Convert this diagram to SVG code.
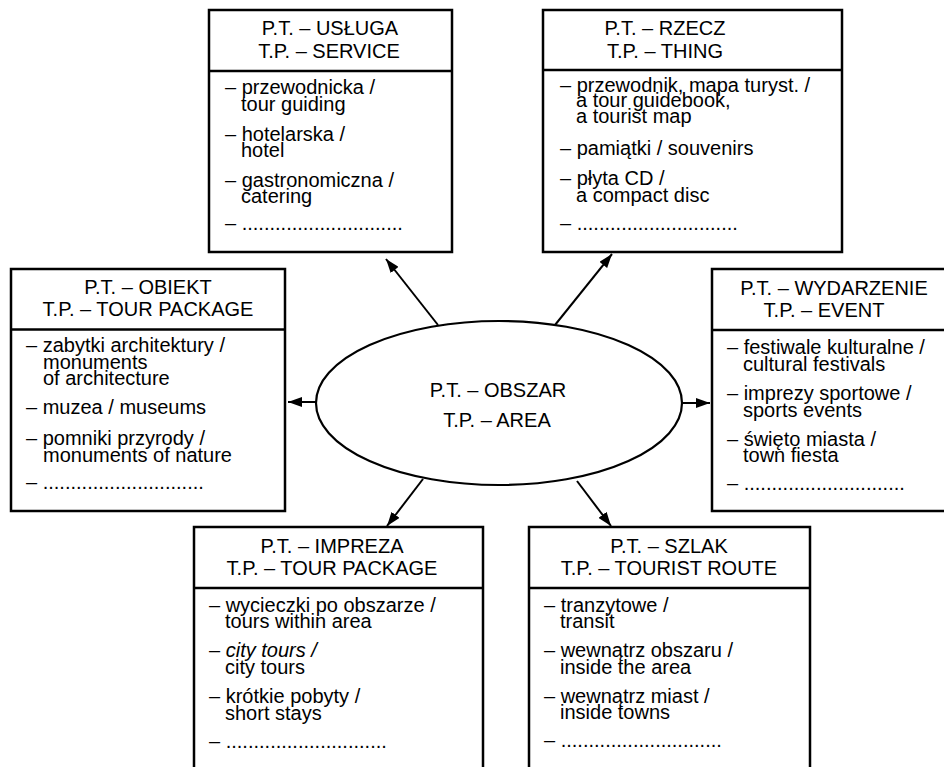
<svg xmlns="http://www.w3.org/2000/svg" width="944" height="767" viewBox="0 0 944 767">
  <defs>
    <marker id="arrow" markerUnits="userSpaceOnUse" markerWidth="14" markerHeight="10" refX="14" refY="5" orient="auto">
      <path d="M0,0 L14,5 L0,10 Z" fill="#000"/>
    </marker>
    <style>
      .box { fill: #fff; stroke: #000; stroke-width: 2.5; }
      .div { stroke: #000; stroke-width: 2.5; }
      .hd { font-family: "Liberation Sans", Arial, sans-serif; font-size: 20px; text-anchor: middle; fill: #000; }
      .bd { font-family: "Liberation Sans", Arial, sans-serif; font-size: 20px; fill: #000; }
      .conn line { stroke: #000; stroke-width: 2; marker-end: url(#arrow); }
      .ell { fill: #fff; stroke: #000; stroke-width: 2.2; }
    </style>
  </defs>
  <rect width="944" height="767" fill="#fff"/>

  <!-- connectors from the central area to each product type -->
  <g id="connectors" class="conn">
    <line x1="438" y1="325" x2="386" y2="259"/>
    <line x1="555" y1="325" x2="612" y2="254"/>
    <line x1="316" y1="402" x2="288" y2="402"/>
    <line x1="682" y1="403" x2="710" y2="403"/>
    <line x1="423" y1="479" x2="387" y2="526"/>
    <line x1="577" y1="481" x2="611" y2="526"/>
  </g>

  <!-- central node -->
  <g id="obszar">
    <ellipse class="ell" cx="499" cy="403" rx="183" ry="82"/>
    <text class="hd" x="498" y="397">P.T. – OBSZAR</text>
    <text class="hd" x="497" y="427">T.P. – AREA</text>
  </g>

  <!-- service -->
  <g id="usluga">
    <rect class="box" x="209" y="10" width="243" height="242"/>
    <line class="div" x1="209" y1="71" x2="452" y2="71"/>
    <text class="hd" x="330" y="35">P.T. – USŁUGA</text>
    <text class="hd" x="329" y="58">T.P. – SERVICE</text>
    <text class="bd" x="225" y="94">– przewodnicka /</text>
    <text class="bd" x="241" y="111">tour guiding</text>
    <text class="bd" x="225" y="141">– hotelarska /</text>
    <text class="bd" x="241" y="157">hotel</text>
    <text class="bd" x="225" y="187">– gastronomiczna /</text>
    <text class="bd" x="241" y="203">catering</text>
    <text class="bd" x="225" y="230">– .............................</text>
  </g>

  <!-- thing -->
  <g id="rzecz">
    <rect class="box" x="543" y="10" width="299" height="242"/>
    <line class="div" x1="543" y1="70" x2="842" y2="70"/>
    <text class="hd" x="665" y="35">P.T. – RZECZ</text>
    <text class="hd" x="665" y="58">T.P. – THING</text>
    <text class="bd" x="560" y="92">– przewodnik, mapa turyst. /</text>
    <text class="bd" x="576" y="107">a tour guidebook,</text>
    <text class="bd" x="576" y="123">a tourist map</text>
    <text class="bd" x="560" y="155">– pamiątki / souvenirs</text>
    <text class="bd" x="560" y="185">– płyta CD /</text>
    <text class="bd" x="576" y="202">a compact disc</text>
    <text class="bd" x="560" y="230">– .............................</text>
  </g>

  <!-- object -->
  <g id="obiekt">
    <rect class="box" x="11" y="269" width="274" height="242"/>
    <line class="div" x1="11" y1="329.5" x2="285" y2="329.5"/>
    <text class="hd" x="148" y="294">P.T. – OBIEKT</text>
    <text class="hd" x="148" y="316">T.P. – TOUR PACKAGE</text>
    <text class="bd" x="26" y="352">– zabytki architektury /</text>
    <text class="bd" x="43" y="369">monuments</text>
    <text class="bd" x="43" y="385">of architecture</text>
    <text class="bd" x="26" y="414">– muzea / museums</text>
    <text class="bd" x="26" y="445">– pomniki przyrody /</text>
    <text class="bd" x="43" y="462">monuments of nature</text>
    <text class="bd" x="26" y="489">– .............................</text>
  </g>

  <!-- event -->
  <g id="wydarzenie">
    <rect class="box" x="712" y="269" width="250" height="242"/>
    <line class="div" x1="712" y1="330" x2="962" y2="330"/>
    <text class="hd" x="834" y="295">P.T. – WYDARZENIE</text>
    <text class="hd" x="824" y="317">T.P. – EVENT</text>
    <text class="bd" x="727" y="354">– festiwale kulturalne /</text>
    <text class="bd" x="743" y="371">cultural festivals</text>
    <text class="bd" x="727" y="400">– imprezy sportowe /</text>
    <text class="bd" x="743" y="417">sports events</text>
    <text class="bd" x="727" y="446">– święto miasta /</text>
    <text class="bd" x="743" y="462">town fiesta</text>
    <text class="bd" x="727" y="490">– .............................</text>
  </g>

  <!-- tour package -->
  <g id="impreza">
    <rect class="box" x="194" y="527" width="289" height="260"/>
    <line class="div" x1="194" y1="588" x2="483" y2="588"/>
    <text class="hd" x="332" y="553">P.T. – IMPREZA</text>
    <text class="hd" x="332" y="575">T.P. – TOUR PACKAGE</text>
    <text class="bd" x="209" y="612">– wycieczki po obszarze /</text>
    <text class="bd" x="225" y="628">tours within area</text>
    <text class="bd" x="209" y="657">– <tspan font-style="italic">city tours /</tspan></text>
    <text class="bd" x="225" y="674">city tours</text>
    <text class="bd" x="209" y="703">– krótkie pobyty /</text>
    <text class="bd" x="225" y="720">short stays</text>
    <text class="bd" x="209" y="748">– .............................</text>
  </g>

  <!-- tourist route -->
  <g id="szlak">
    <rect class="box" x="529" y="527" width="281" height="260"/>
    <line class="div" x1="529" y1="588" x2="810" y2="588"/>
    <text class="hd" x="669" y="553">P.T. – SZLAK</text>
    <text class="hd" x="669" y="575">T.P. – TOURIST ROUTE</text>
    <text class="bd" x="544" y="612">– tranzytowe /</text>
    <text class="bd" x="560" y="628">transit</text>
    <text class="bd" x="544" y="657">– wewnątrz obszaru /</text>
    <text class="bd" x="560" y="674">inside the area</text>
    <text class="bd" x="544" y="703">– wewnątrz miast /</text>
    <text class="bd" x="560" y="719">inside towns</text>
    <text class="bd" x="544" y="747">– .............................</text>
  </g>
</svg>
